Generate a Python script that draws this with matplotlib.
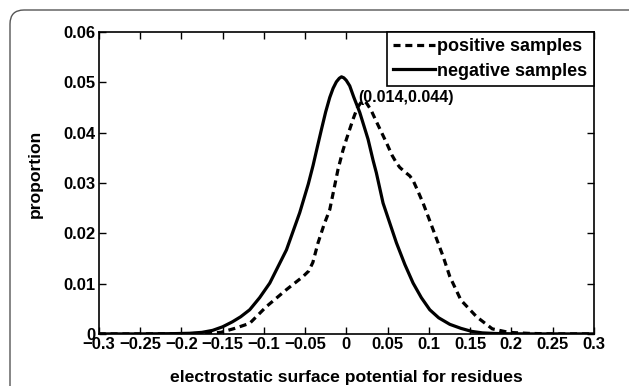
import matplotlib

matplotlib.use("Agg")
import matplotlib.pyplot as plt
from matplotlib.patches import FancyBboxPatch
from matplotlib.ticker import FuncFormatter, MultipleLocator

plt.rcParams["font.family"] = ["Liberation Sans", "DejaVu Sans"]
plt.rcParams["font.weight"] = "bold"

# positive samples (dashed)
pos_x = [-0.3, -0.25, -0.22, -0.19, -0.17, -0.152, -0.135, -0.117, -0.097, -0.0725,
         -0.0524, -0.0455, -0.0405, -0.0342, -0.027, -0.02, -0.01, -0.004, 0.0002,
         0.0083, 0.0135, 0.0184, 0.0215, 0.0245, 0.03, 0.0365, 0.0487, 0.0555,
         0.0608, 0.0648, 0.071, 0.077, 0.081, 0.0865, 0.0931, 0.1053, 0.1174,
         0.1255, 0.139, 0.158, 0.177, 0.197, 0.221, 0.25, 0.3]
pos_y = [0.0, 0.0, 0.00002, 0.00006, 0.00012, 0.0003, 0.0011, 0.0021, 0.0054,
         0.0088, 0.0114, 0.0125, 0.0142, 0.0181, 0.0217, 0.0247, 0.0327, 0.0365,
         0.0387, 0.0427, 0.0450, 0.0461, 0.0463, 0.0459, 0.0445, 0.0422, 0.038,
         0.0355, 0.034, 0.0331, 0.0322, 0.0314, 0.0305, 0.0285, 0.026, 0.0207,
         0.0154, 0.0114, 0.0067, 0.0034, 0.001, 0.0003, 0.0001, 0.0, 0.0]

# negative samples (solid)
neg_x = [-0.3, -0.25, -0.21, -0.19, -0.175, -0.162, -0.15, -0.138, -0.128, -0.117,
         -0.105, -0.0927, -0.0725, -0.0564, -0.046, -0.0402, -0.035, -0.03, -0.025,
         -0.02, -0.016, -0.012, -0.0085, -0.0058, -0.003, 0.0, 0.0042, 0.009,
         0.0164, 0.0264, 0.0325, 0.0365, 0.0446, 0.0608, 0.071, 0.081, 0.091,
         0.1012, 0.112, 0.1255, 0.139, 0.152, 0.165, 0.18, 0.2, 0.23, 0.3]
neg_y = [0.0, 0.0, 0.00005, 0.00012, 0.0003, 0.0007, 0.0014, 0.0024, 0.0034, 0.0048,
         0.0072, 0.0101, 0.0167, 0.0241, 0.0298, 0.0335, 0.0372, 0.0407, 0.0441,
         0.0470, 0.0488, 0.0501, 0.0508, 0.0511, 0.0509, 0.0504, 0.0493, 0.0471,
         0.044, 0.0387, 0.0345, 0.032, 0.026, 0.0181, 0.0138, 0.0101, 0.0072,
         0.0048, 0.0032, 0.0019, 0.0011, 0.0005, 0.0002, 0.00008, 0.00002, 0.0, 0.0]

labels = ["positive samples", "negative samples"]
crossing = (0.014, 0.044)

fig = plt.figure(figsize=(6.29, 3.86), dpi=100)
ax = fig.add_axes([0.157, 0.135, 0.787, 0.782])

# rounded frame around the figure, cut off at the bottom
frame = FancyBboxPatch((10, -40), 640, 416, boxstyle="round,pad=0,rounding_size=14",
                       transform=None, fill=False, edgecolor="#555555", linewidth=1.0)
fig.patches.append(frame)

ax.plot(pos_x, pos_y, color="black", lw=2.3, linestyle=(0, (2.2, 1.5)),
        label=labels[0])
ax.plot(neg_x, neg_y, color="black", lw=2.3, solid_joinstyle="round",
        label=labels[1])

ax.text(crossing[0], 0.0469, f"({crossing[0]},{crossing[1]})", fontsize=11.5,
        fontweight="bold", ha="left", va="center")

ax.set_xlim(-0.3, 0.3)
ax.set_ylim(0, 0.06)
ax.xaxis.set_major_locator(MultipleLocator(0.05))
ax.yaxis.set_major_locator(MultipleLocator(0.01))
fmt = FuncFormatter(lambda v, p: ("%g" % round(v, 3)).replace("-", "\u2212"))
ax.xaxis.set_major_formatter(fmt)
ax.yaxis.set_major_formatter(fmt)
ax.tick_params(direction="in", top=True, right=True, length=5, width=1,
               labelsize=12, pad=2)
for lab in ax.get_xticklabels() + ax.get_yticklabels():
    lab.set_fontweight("bold")
for s in ax.spines.values():
    s.set_linewidth(1.2)

ax.set_xlabel("electrostatic surface potential for residues", fontsize=12.6,
              fontweight="bold", labelpad=13)
ax.set_ylabel("proportion", fontsize=12.6, fontweight="bold")
ax.yaxis.set_label_coords(-0.112, 0.53)

leg = ax.legend(loc="upper right", borderaxespad=0, fontsize=13, handlelength=2.3,
                handletextpad=0.15, borderpad=0.35, labelspacing=0.4, fancybox=False,
                framealpha=1)
leg.get_frame().set_edgecolor("black")
leg.get_frame().set_linewidth(1.2)
for t in leg.get_texts():
    t.set_fontweight("bold")

fig.savefig("out.png", dpi=100)
